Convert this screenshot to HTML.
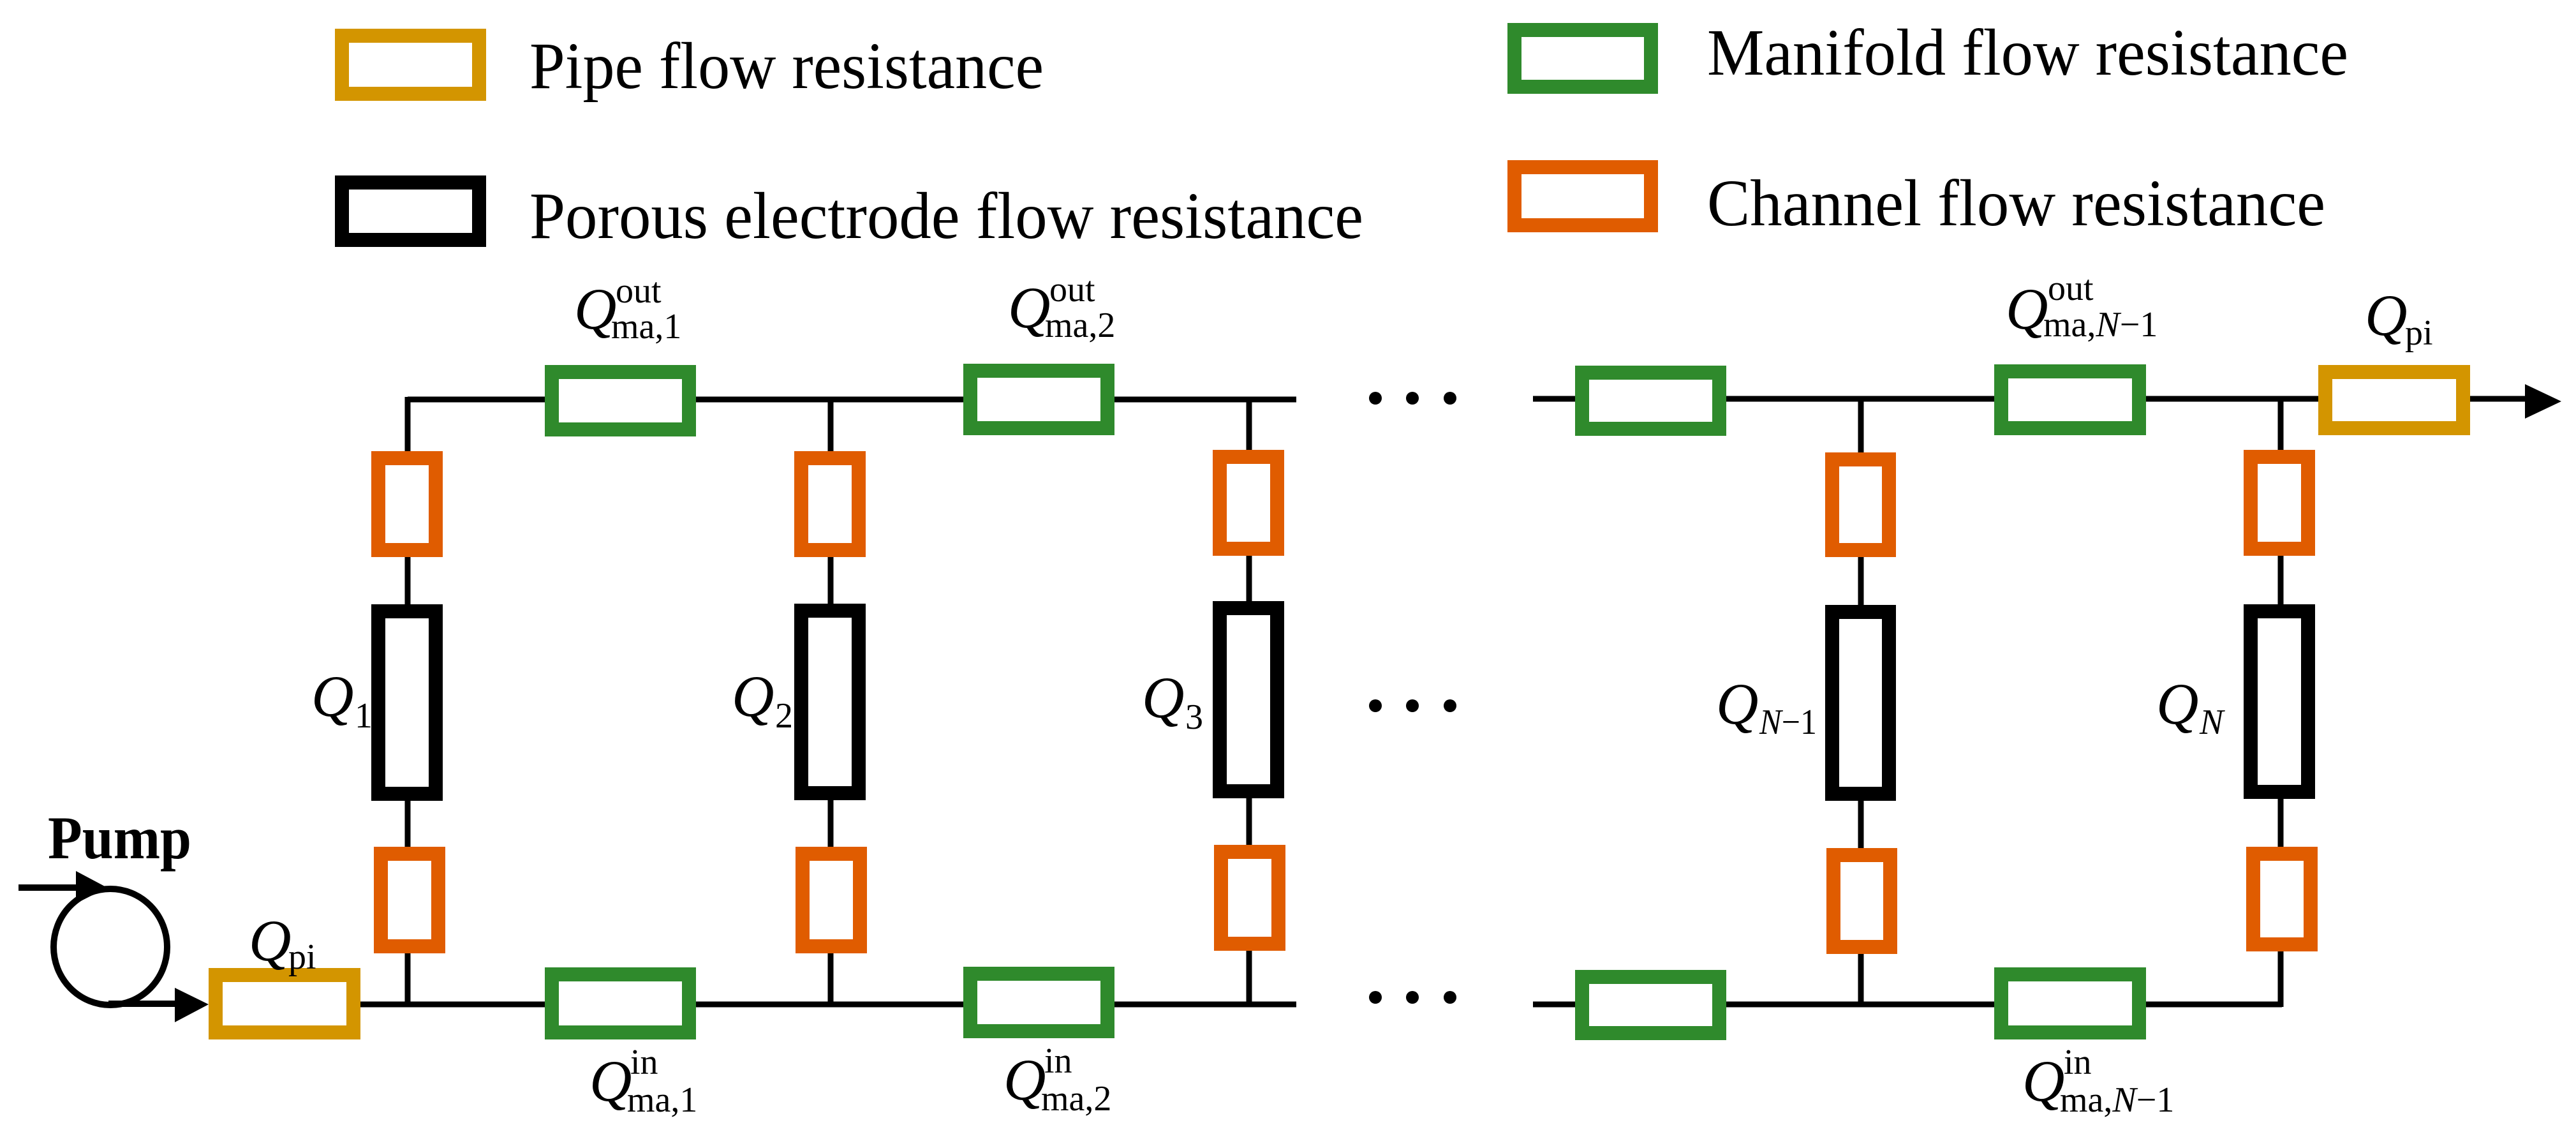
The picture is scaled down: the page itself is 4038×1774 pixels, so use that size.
<!DOCTYPE html>
<html><head><meta charset="utf-8"><style>
html,body{margin:0;padding:0;background:#fff}
svg{display:block;font-family:"Liberation Serif","Times New Roman",serif}
text{font-family:"Liberation Serif","Times New Roman",serif;fill:#000}
.q{font-style:italic;font-size:92px}
.s{font-size:56px}
.leg{font-size:104px}
</style></head><body>
<svg width="4038" height="1774" viewBox="0 0 4038 1774" xmlns="http://www.w3.org/2000/svg">
<g fill="none">
<g stroke="#000" stroke-width="9">
<line x1="639" y1="626" x2="2032" y2="626"/>
<line x1="2403" y1="625" x2="3960" y2="625"/>
<line x1="565" y1="1574" x2="2032" y2="1574"/>
<line x1="2403" y1="1574" x2="3577" y2="1574"/>
<line x1="639" y1="622" x2="639" y2="1578"/>
<line x1="1302" y1="622" x2="1302" y2="1578"/>
<line x1="1958" y1="622" x2="1958" y2="1578"/>
<line x1="2917" y1="622" x2="2917" y2="1578"/>
<line x1="3575" y1="622" x2="3575" y2="1578"/>
</g>
<ellipse cx="173" cy="1484" rx="89" ry="91" stroke="#000" stroke-width="10"/>
<line x1="29" y1="1391" x2="150" y2="1391" stroke="#000" stroke-width="10"/>
<polygon points="119,1365 168,1391 119,1416" fill="#000"/>
<line x1="170" y1="1573" x2="290" y2="1573" stroke="#000" stroke-width="10"/>
<polygon points="274,1548 327,1574 274,1602" fill="#000"/>
<polygon points="3958,602 4015,629 3958,656" fill="#000"/>
<rect x="536" y="56" width="215" height="91" stroke="#D39500" stroke-width="22" fill="#fff"/>
<rect x="536" y="286" width="215" height="90" stroke="#000" stroke-width="22" fill="#fff"/>
<rect x="2374" y="47" width="214" height="89" stroke="#2F8A2C" stroke-width="22" fill="#fff"/>
<rect x="2374" y="262" width="214" height="91" stroke="#E05C00" stroke-width="22" fill="#fff"/>
<g stroke="#2F8A2C" stroke-width="22" fill="#fff">
<rect x="865" y="583" width="215" height="90"/>
<rect x="1521" y="581" width="215" height="90"/>
<rect x="2480" y="584" width="215" height="88"/>
<rect x="3137" y="582" width="216" height="89"/>
<rect x="865" y="1527" width="215" height="91"/>
<rect x="1521" y="1526" width="215" height="90"/>
<rect x="2480" y="1531" width="215" height="88"/>
<rect x="3137" y="1527" width="216" height="91"/>
</g>
<g stroke="#D39500" stroke-width="22" fill="#fff">
<rect x="338" y="1528" width="216" height="90"/>
<rect x="3645" y="583" width="216" height="88"/>
</g>
<g stroke="#E05C00" stroke-width="22" fill="#fff">
<rect x="593" y="718" width="90" height="144"/>
<rect x="1256" y="718" width="90" height="144"/>
<rect x="1912" y="716" width="90" height="144"/>
<rect x="2872" y="720" width="89" height="142"/>
<rect x="3528" y="716" width="90" height="144"/>
<rect x="597" y="1338" width="90" height="145"/>
<rect x="1258" y="1338" width="90" height="145"/>
<rect x="1914" y="1335" width="90" height="144"/>
<rect x="2874" y="1340" width="89" height="144"/>
<rect x="3532" y="1338" width="90" height="142"/>
</g>
<g stroke="#000" stroke-width="22" fill="#fff">
<rect x="593" y="958" width="90" height="286"/>
<rect x="1256" y="957" width="90" height="286"/>
<rect x="1912" y="953" width="90" height="287"/>
<rect x="2872" y="959" width="89" height="285"/>
<rect x="3528" y="958" width="90" height="283"/>
</g>
<g fill="#000">
<circle cx="2156" cy="624" r="10"/><circle cx="2214" cy="624" r="10"/><circle cx="2273" cy="624" r="10"/>
<circle cx="2156" cy="1106" r="10"/><circle cx="2214" cy="1106" r="10"/><circle cx="2273" cy="1106" r="10"/>
<circle cx="2156" cy="1563" r="10"/><circle cx="2214" cy="1563" r="10"/><circle cx="2273" cy="1563" r="10"/>
</g>
</g>
<text class="leg" x="830" y="138" textLength="806" lengthAdjust="spacingAndGlyphs">Pipe flow resistance</text>
<text class="leg" x="830" y="373" textLength="1307" lengthAdjust="spacingAndGlyphs">Porous electrode flow resistance</text>
<text class="leg" x="2676" y="117" textLength="1005" lengthAdjust="spacingAndGlyphs">Manifold flow resistance</text>
<text class="leg" x="2676" y="353" textLength="969" lengthAdjust="spacingAndGlyphs">Channel flow resistance</text>
<text x="75" y="1345" font-weight="bold" font-size="95" textLength="225" lengthAdjust="spacingAndGlyphs">Pump</text>
<text class="q" x="900" y="515">Q</text><text class="s" x="965" y="474">out</text><text class="s" x="958" y="530">ma,1</text>
<text class="q" x="1580" y="513">Q</text><text class="s" x="1645" y="472">out</text><text class="s" x="1638" y="528">ma,2</text>
<text class="q" x="3144" y="515">Q</text><text class="s" x="3210" y="470">out</text><text class="s" x="3203" y="527">ma,<tspan font-style="italic">N</tspan>−1</text>
<text class="q" x="3707" y="525">Q</text><text class="s" x="3770" y="540">pi</text>
<text class="q" x="390" y="1505">Q</text><text class="s" x="452" y="1518">pi</text>
<text class="q" x="924" y="1725">Q</text><text class="s" x="988" y="1683">in</text><text class="s" x="983" y="1742">ma,1</text>
<text class="q" x="1573" y="1723">Q</text><text class="s" x="1637" y="1681">in</text><text class="s" x="1632" y="1740">ma,2</text>
<text class="q" x="3170" y="1725">Q</text><text class="s" x="3235" y="1683">in</text><text class="s" x="3229" y="1742">ma,<tspan font-style="italic">N</tspan>−1</text>
<text class="q" x="488" y="1122">Q</text><text class="s" x="556" y="1140">1</text>
<text class="q" x="1147" y="1122">Q</text><text class="s" x="1215" y="1140">2</text>
<text class="q" x="1790" y="1124">Q</text><text class="s" x="1858" y="1142">3</text>
<text class="q" x="2690" y="1134">Q</text><text class="s" x="2758" y="1150" textLength="90" lengthAdjust="spacingAndGlyphs"><tspan font-style="italic">N</tspan>−1</text>
<text class="q" x="3380" y="1134">Q</text><text class="s" x="3448" y="1150" font-style="italic">N</text>
</svg>
</body></html>
